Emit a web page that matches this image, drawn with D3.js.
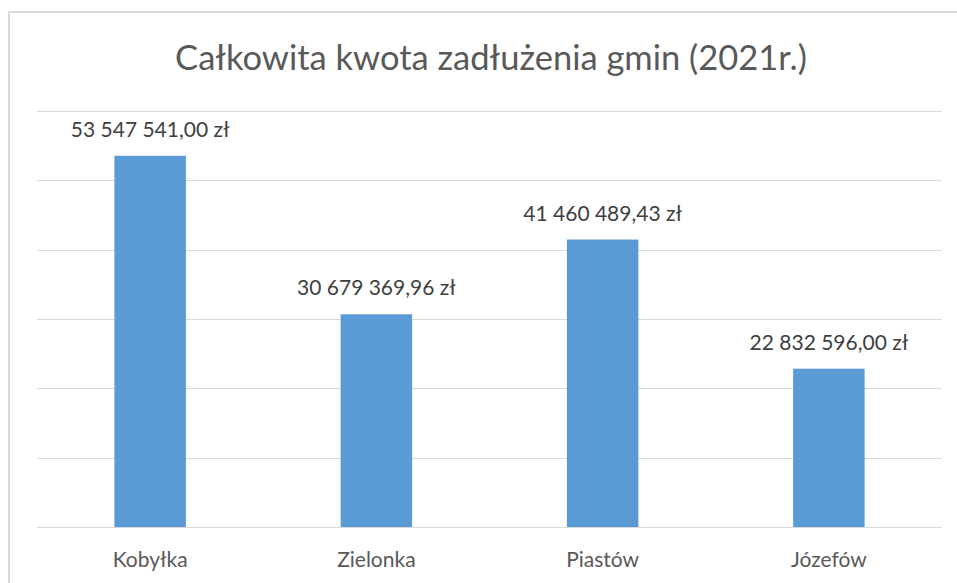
<meta charset="utf-8">
<script src="https://d3js.org/d3.v7.js"></script>
<style>
body { margin: 0; background: white; }
svg { font-family: 'Lato'; display: block; }
</style>
<div id="chart"></div>
<script>
// data
var gminy = ["Kobyłka", "Zielonka", "Piastów", "Józefów"];
var kwoty = [53547541.00, 30679369.96, 41460489.43, 22832596.00];
var etykiety = ["53 547 541,00 zł", "30 679 369,96 zł", "41 460 489,43 zł", "22 832 596,00 zł"];
var yTicks = [0, 10000000, 20000000, 30000000, 40000000, 50000000, 60000000];
var tytul = "Całkowita kwota zadłużenia gmin (2021r.)";

var W = 957, H = 583;
var margin = {top: 111, right: 15, bottom: 56, left: 37},
    width = W - margin.left - margin.right,
    height = H - margin.top - margin.bottom;

var root = d3.select("#chart").append("svg")
    .attr("width", W)
    .attr("height", H);

// outer frame of the chart area
root.append("rect")
    .attr("x", 9).attr("y", 12)
    .attr("width", W + 20).attr("height", H + 20)
    .attr("fill", "white")
    .attr("stroke", "#d9d9d9")
    .attr("stroke-width", 2);

root.append("text")
    .attr("x", 491).attr("y", 70)
    .attr("text-anchor", "middle")
    .attr("fill", "#595959")
    .style("font-size", "34.5px")
    .text(tytul);

var svg = root.append("g")
    .attr("transform", "translate(" + margin.left + "," + margin.top + ")");

var x = d3.scaleBand()
    .domain(gminy)
    .range([0, width])
    .paddingInner(0.684)
    .paddingOuter(0.342);

var y = d3.scaleLinear()
    .domain([0, 60000000])
    .range([height, 0]);

// gridlines
svg.append("g")
    .selectAll("line")
    .data(yTicks)
    .enter()
    .append("line")
    .attr("x1", 0).attr("x2", width)
    .attr("y1", function (d) { return Math.round(y(d)) + 0.5; })
    .attr("y2", function (d) { return Math.round(y(d)) + 0.5; })
    .attr("stroke", "#d9d9d9")
    .attr("stroke-width", 1);

// bars
svg.append("g")
    .selectAll("rect")
    .data(kwoty)
    .enter()
    .append("rect")
    .attr("x", function (d, i) { return x(gminy[i]); })
    .attr("y", function (d) { return y(d); })
    .attr("width", x.bandwidth())
    .attr("height", function (d) { return y(0) - y(d); })
    .attr("fill", "#5b9bd5");

// value labels
svg.append("g")
    .selectAll("text")
    .data(kwoty)
    .enter()
    .append("text")
    .attr("x", function (d, i) { return x(gminy[i]) + x.bandwidth() / 2; })
    .attr("y", function (d) { return y(d) - 19; })
    .attr("text-anchor", "middle")
    .attr("fill", "#404040")
    .style("font-size", "21px")
    .text(function (d, i) { return etykiety[i]; });

// category axis
var xAxis = svg.append("g")
    .attr("transform", "translate(0," + height + ")")
    .call(d3.axisBottom(x).tickSize(0).tickPadding(0));
xAxis.select(".domain").remove();
xAxis.selectAll("text")
    .attr("dy", 0)
    .attr("y", 40)
    .attr("fill", "#595959")
    .style("font-family", "Lato")
    .style("font-size", "21px");
</script>
